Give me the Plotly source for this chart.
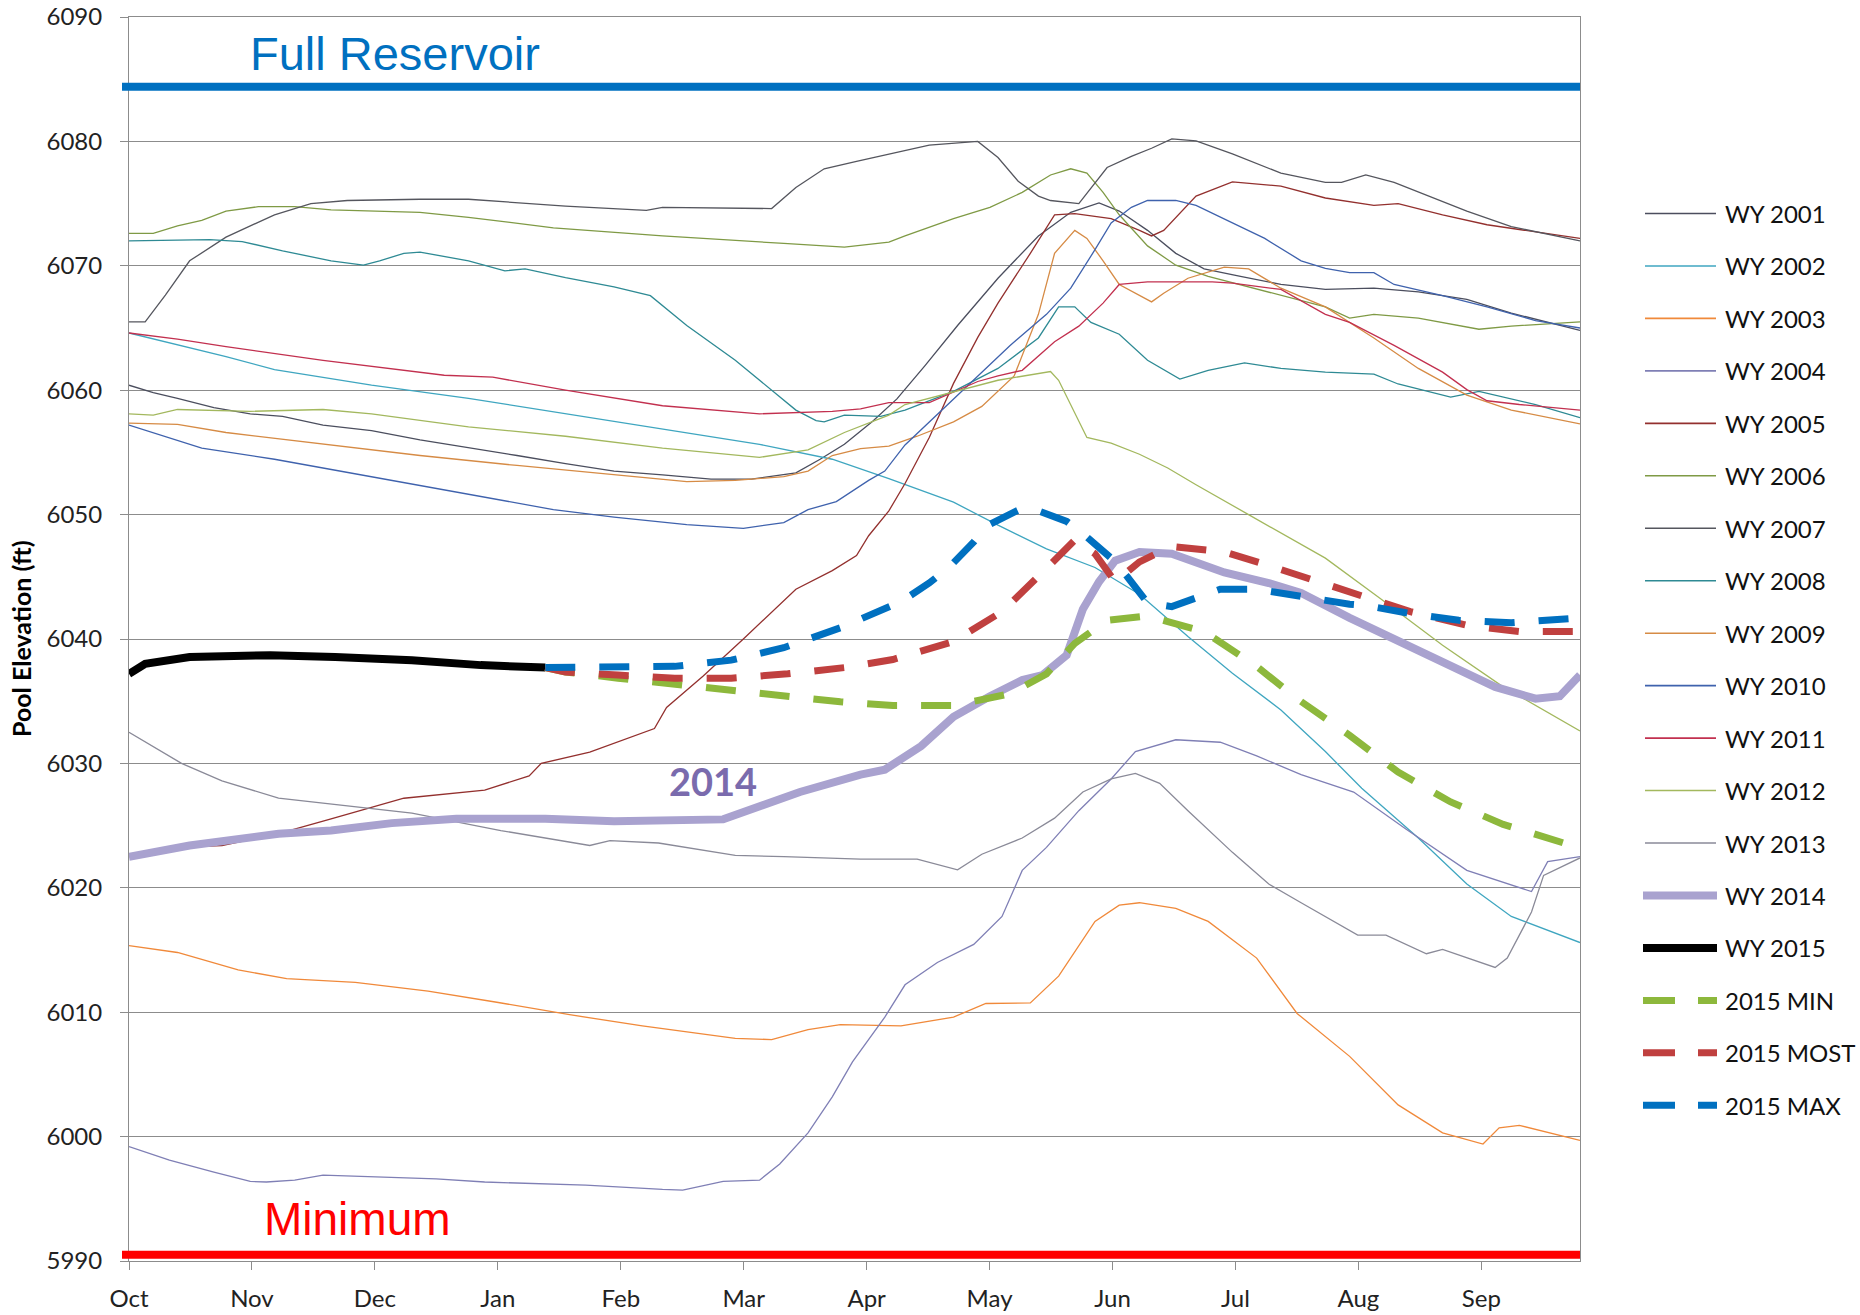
import plotly.graph_objects as go

# ---------------------------------------------------------------- data
# x values are days into the water year (0 = Oct 1); y values are pool elevations (ft)
MONTHS = ["Oct", "Nov", "Dec", "Jan", "Feb", "Mar", "Apr", "May", "Jun", "Jul", "Aug", "Sep"]
DAYS_PER_MONTH = 365 / 12
X_END = 359
Y_MIN, Y_MAX, Y_STEP = 5990, 6090, 10

FULL_POOL = 6084.4
MIN_POOL = 5990.5

wy2001_day = [0, 6, 12, 21, 30, 38, 48, 60, 72, 84, 96, 108, 120, 132, 144, 154, 165, 171, 177, 184, 190, 197, 205, 215, 225, 233, 240, 245, 252, 259, 266, 275, 285, 296, 308, 319, 331, 342, 359]
wy2001_elev = [6060.4, 6059.8, 6059.35, 6058.6, 6058.1, 6057.9, 6057.2, 6056.75, 6056.0, 6055.4, 6054.75, 6054.1, 6053.5, 6053.2, 6052.85, 6052.85, 6053.35, 6054.45, 6055.65, 6057.5, 6059.3, 6062.0, 6065.2, 6069.0, 6072.4, 6074.3, 6075.05, 6074.4, 6072.85, 6071.0, 6069.75, 6069.15, 6068.5, 6068.1, 6068.2, 6067.9, 6067.3, 6066.2, 6064.8]

wy2002_day = [0, 12, 24, 36, 60, 84, 108, 132, 156, 174, 188, 204, 215, 227, 239, 250, 262, 273, 285, 296, 305, 319, 331, 342, 359]
wy2002_elev = [6064.6, 6063.65, 6062.7, 6061.65, 6060.4, 6059.35, 6058.1, 6056.9, 6055.65, 6054.45, 6052.9, 6051.0, 6049.15, 6047.25, 6045.75, 6043.6, 6040.2, 6037.25, 6034.3, 6030.95, 6028.0, 6024.0, 6020.3, 6017.7, 6015.6]

wy2003_day = [0, 12, 27, 39, 56, 74, 91, 109, 127, 138, 150, 159, 168, 176, 191, 204, 212, 223, 230, 239, 245, 250, 259, 267, 279, 289, 302, 314, 325, 335, 339, 344, 359]
wy2003_elev = [6015.35, 6014.8, 6013.4, 6012.7, 6012.4, 6011.7, 6010.8, 6009.8, 6008.9, 6008.4, 6007.9, 6007.8, 6008.6, 6009.0, 6008.9, 6009.6, 6010.7, 6010.75, 6012.9, 6017.3, 6018.6, 6018.8, 6018.35, 6017.3, 6014.35, 6009.9, 6006.45, 6002.55, 6000.3, 5999.4, 6000.7, 6000.9, 5999.7]

wy2004_day = [0, 10, 21, 30, 34, 41, 48, 60, 76, 88, 113, 132, 137, 147, 156, 161, 168, 174, 179, 187, 192, 200, 209, 216, 221, 227, 235, 243, 249, 259, 270, 279, 290, 303, 316, 331, 347, 351, 359]
wy2004_elev = [5999.2, 5998.1, 5997.15, 5996.4, 5996.35, 5996.5, 5996.9, 5996.75, 5996.6, 5996.35, 5996.1, 5995.75, 5995.7, 5996.4, 5996.5, 5997.8, 6000.3, 6003.2, 6006.0, 6009.6, 6012.2, 6014.0, 6015.45, 6017.7, 6021.4, 6023.25, 6026.2, 6028.75, 6030.95, 6031.9, 6031.7, 6030.6, 6029.1, 6027.7, 6024.7, 6021.4, 6019.7, 6022.1, 6022.5]

wy2005_day = [0, 15, 23, 37, 50, 68, 88, 99, 102, 114, 130, 133, 142, 152, 165, 174, 180, 183, 188, 192, 198, 204, 210, 215, 223, 229, 234, 243, 250, 253, 256, 264, 273, 285, 296, 308, 314, 325, 336, 359]
wy2005_elev = [6022.5, 6023.3, 6023.4, 6024.35, 6025.55, 6027.2, 6027.85, 6029.0, 6030.0, 6030.9, 6032.8, 6034.5, 6037.0, 6040.0, 6044.0, 6045.5, 6046.7, 6048.3, 6050.3, 6052.5, 6056.2, 6060.55, 6064.25, 6067.0, 6071.0, 6074.1, 6074.2, 6073.8, 6072.85, 6072.4, 6072.85, 6075.6, 6076.75, 6076.4, 6075.45, 6074.85, 6075.0, 6074.1, 6073.3, 6072.2]

wy2006_day = [0, 6, 12, 18, 24, 32, 41, 50, 72, 84, 105, 132, 162, 177, 188, 192, 204, 213, 221, 228, 233, 237, 241, 245, 252, 259, 267, 285, 296, 302, 308, 319, 334, 342, 359]
wy2006_elev = [6072.6, 6072.6, 6073.2, 6073.65, 6074.4, 6074.75, 6074.75, 6074.5, 6074.3, 6073.9, 6073.05, 6072.4, 6071.8, 6071.5, 6071.9, 6072.4, 6073.8, 6074.7, 6075.9, 6077.3, 6077.8, 6077.45, 6075.9, 6074.1, 6071.6, 6070.05, 6069.15, 6067.6, 6066.7, 6065.8, 6066.1, 6065.8, 6064.9, 6065.15, 6065.5]

wy2007_day = [0, 4, 9, 15, 24, 36, 45, 54, 72, 84, 108, 128, 132, 150, 159, 165, 172, 180, 188, 192, 198, 210, 215, 220, 225, 228, 235, 242, 248, 253, 258, 264, 273, 285, 296, 300, 306, 313, 331, 342, 359]
wy2007_elev = [6065.5, 6065.5, 6067.65, 6070.4, 6072.3, 6074.1, 6075.0, 6075.25, 6075.35, 6075.35, 6074.8, 6074.45, 6074.7, 6074.6, 6074.6, 6076.3, 6077.8, 6078.4, 6079.0, 6079.3, 6079.7, 6080.0, 6078.7, 6076.8, 6075.6, 6075.25, 6075.0, 6077.9, 6078.8, 6079.45, 6080.2, 6080.05, 6079.0, 6077.45, 6076.7, 6076.7, 6077.3, 6076.7, 6074.4, 6073.15, 6072.0]

wy2008_day = [0, 12, 20, 28, 38, 50, 58, 62, 68, 72, 84, 93, 98, 108, 120, 129, 138, 150, 158, 165, 170, 172, 177, 186, 192, 204, 215, 225, 230, 234, 238, 245, 252, 260, 267, 276, 285, 296, 308, 314, 327, 334, 348, 359]
wy2008_elev = [6072.0, 6072.05, 6072.1, 6071.95, 6071.2, 6070.4, 6070.05, 6070.4, 6071.0, 6071.1, 6070.4, 6069.6, 6069.75, 6069.05, 6068.3, 6067.6, 6065.2, 6062.4, 6060.3, 6058.4, 6057.55, 6057.45, 6058.0, 6057.9, 6058.4, 6059.9, 6061.75, 6064.2, 6066.7, 6066.7, 6065.45, 6064.5, 6062.4, 6060.9, 6061.6, 6062.2, 6061.75, 6061.45, 6061.3, 6060.5, 6059.45, 6059.9, 6058.85, 6057.8]

wy2009_day = [0, 12, 24, 48, 72, 96, 120, 138, 150, 162, 168, 174, 181, 188, 195, 204, 211, 219, 225, 229, 234, 237, 241, 245, 253, 256, 262, 271, 277, 285, 296, 308, 319, 331, 342, 359]
wy2009_elev = [6057.35, 6057.25, 6056.6, 6055.65, 6054.75, 6053.95, 6053.2, 6052.65, 6052.75, 6053.05, 6053.5, 6054.75, 6055.3, 6055.5, 6056.3, 6057.45, 6058.7, 6061.15, 6066.1, 6071.0, 6072.85, 6072.2, 6070.4, 6068.5, 6067.1, 6067.8, 6069.0, 6069.9, 6069.75, 6068.2, 6066.7, 6064.2, 6061.75, 6059.6, 6058.4, 6057.3]

wy2010_day = [0, 6, 18, 36, 60, 84, 105, 120, 138, 152, 162, 168, 175, 183, 187, 192, 202, 210, 218, 227, 233, 239, 243, 248, 252, 259, 264, 273, 281, 290, 296, 302, 308, 313, 325, 336, 348, 359]
wy2010_elev = [6057.2, 6056.6, 6055.35, 6054.45, 6053.05, 6051.65, 6050.4, 6049.8, 6049.2, 6048.9, 6049.35, 6050.4, 6051.05, 6052.75, 6053.5, 6055.6, 6058.7, 6061.15, 6063.6, 6066.1, 6068.2, 6071.3, 6073.45, 6074.7, 6075.25, 6075.25, 6074.85, 6073.45, 6072.2, 6070.4, 6069.8, 6069.45, 6069.45, 6068.5, 6067.6, 6066.7, 6065.6, 6065.0]

wy2011_day = [0, 12, 24, 48, 78, 90, 108, 132, 156, 174, 181, 188, 198, 210, 215, 221, 229, 235, 241, 245, 252, 262, 268, 273, 285, 296, 302, 313, 325, 331, 336, 344, 359]
wy2011_elev = [6064.6, 6064.1, 6063.5, 6062.4, 6061.2, 6061.05, 6060.0, 6058.75, 6058.1, 6058.3, 6058.5, 6059.0, 6059.0, 6060.7, 6061.15, 6061.6, 6063.9, 6065.15, 6067.0, 6068.5, 6068.7, 6068.7, 6068.7, 6068.6, 6068.1, 6066.1, 6065.45, 6063.6, 6061.45, 6060.05, 6059.15, 6058.85, 6058.4]

wy2012_day = [0, 6, 12, 30, 48, 60, 84, 108, 132, 156, 168, 177, 188, 192, 215, 222, 228, 230, 235, 237, 243, 250, 257, 264, 277, 296, 310, 325, 340, 359]
wy2012_elev = [6058.1, 6058.0, 6058.45, 6058.3, 6058.45, 6058.1, 6057.05, 6056.3, 6055.35, 6054.6, 6055.2, 6056.6, 6058.0, 6058.85, 6060.8, 6061.15, 6061.5, 6060.8, 6057.45, 6056.2, 6055.75, 6054.85, 6053.75, 6052.4, 6050.0, 6046.5, 6043.15, 6039.5, 6036.15, 6032.6]

wy2013_day = [0, 13, 23, 37, 70, 92, 114, 119, 131, 150, 162, 181, 195, 205, 211, 221, 229, 236, 243, 249, 255, 262, 273, 282, 290, 304, 311, 321, 325, 338, 341, 347, 350, 359]
wy2013_elev = [6032.5, 6030.0, 6028.6, 6027.2, 6026.0, 6024.6, 6023.4, 6023.8, 6023.6, 6022.6, 6022.5, 6022.3, 6022.3, 6021.45, 6022.7, 6024.0, 6025.6, 6027.7, 6028.75, 6029.2, 6028.4, 6026.2, 6022.85, 6020.3, 6018.8, 6016.2, 6016.2, 6014.7, 6015.05, 6013.6, 6014.35, 6018.05, 6021.0, 6022.4]

wy2014_day = [0, 15, 37, 50, 65, 81, 103, 120, 147, 166, 181, 187, 196, 204, 213, 221, 226, 232, 236, 240, 244, 250, 258, 271, 282, 290, 302, 313, 325, 338, 348, 354, 359]
wy2014_elev = [6022.5, 6023.4, 6024.35, 6024.6, 6025.2, 6025.55, 6025.55, 6025.35, 6025.5, 6027.7, 6029.1, 6029.5, 6031.4, 6033.75, 6035.4, 6036.7, 6037.1, 6038.7, 6042.4, 6044.6, 6046.3, 6047.0, 6046.85, 6045.35, 6044.5, 6043.7, 6041.7, 6040.0, 6038.2, 6036.15, 6035.2, 6035.4, 6037.1]

wy2015_day = [0, 4, 15, 35, 51, 70, 87, 103]
wy2015_elev = [6037.2, 6038.0, 6038.55, 6038.7, 6038.55, 6038.3, 6037.9, 6037.7]

min2015_day = [103, 108, 121, 135, 148, 162, 176, 189, 204, 218, 227, 234, 242, 252, 266, 279, 289, 302, 314, 327, 340, 355, 359]
min2015_elev = [6037.7, 6037.35, 6036.85, 6036.35, 6035.9, 6035.4, 6034.95, 6034.65, 6034.65, 6035.6, 6037.2, 6039.65, 6041.5, 6041.85, 6040.6, 6037.8, 6035.2, 6032.25, 6029.3, 6026.9, 6025.1, 6023.6, 6023.3]

most2015_day = [103, 108, 121, 135, 149, 163, 177, 189, 204, 216, 226, 234, 239, 244, 250, 255, 259, 271, 282, 295, 305, 317, 331, 344, 359]
most2015_elev = [6037.7, 6037.35, 6037.1, 6036.85, 6036.85, 6037.2, 6037.7, 6038.35, 6039.8, 6042.2, 6045.35, 6047.95, 6046.85, 6044.6, 6046.2, 6047.0, 6047.4, 6047.0, 6045.9, 6044.5, 6043.5, 6042.2, 6041.1, 6040.6, 6040.6]

max2015_day = [103, 108, 121, 135, 149, 162, 176, 186, 191, 198, 203, 209, 212, 219, 221, 225, 232, 237, 243, 247, 252, 258, 265, 270, 279, 285, 293, 302, 306, 317, 329, 342, 359]
max2015_elev = [6037.7, 6037.7, 6037.7, 6037.8, 6038.3, 6039.3, 6040.9, 6042.3, 6043.0, 6044.5, 6045.8, 6047.8, 6049.05, 6050.2, 6050.5, 6050.3, 6049.45, 6048.2, 6046.5, 6045.0, 6042.9, 6042.6, 6043.5, 6044.0, 6044.0, 6043.7, 6043.2, 6042.8, 6042.7, 6042.05, 6041.5, 6041.3, 6041.7]

# (label, days, elevations, colour, width, dash)
SERIES = [
    ("WY 2001", wy2001_day, wy2001_elev, "#4b4e5e", 1.3, "solid"),
    ("WY 2002", wy2002_day, wy2002_elev, "#3fa6c0", 1.3, "solid"),
    ("WY 2003", wy2003_day, wy2003_elev, "#f0893a", 1.3, "solid"),
    ("WY 2004", wy2004_day, wy2004_elev, "#7f7fb5", 1.3, "solid"),
    ("WY 2005", wy2005_day, wy2005_elev, "#93302e", 1.3, "solid"),
    ("WY 2006", wy2006_day, wy2006_elev, "#7f9a45", 1.3, "solid"),
    ("WY 2007", wy2007_day, wy2007_elev, "#55565e", 1.3, "solid"),
    ("WY 2008", wy2008_day, wy2008_elev, "#2e8a94", 1.3, "solid"),
    ("WY 2009", wy2009_day, wy2009_elev, "#d68b45", 1.3, "solid"),
    ("WY 2010", wy2010_day, wy2010_elev, "#3f62ad", 1.3, "solid"),
    ("WY 2011", wy2011_day, wy2011_elev, "#c2304f", 1.3, "solid"),
    ("WY 2012", wy2012_day, wy2012_elev, "#a3b85e", 1.3, "solid"),
    ("WY 2013", wy2013_day, wy2013_elev, "#8a8a98", 1.3, "solid"),
    ("WY 2014", wy2014_day, wy2014_elev, "#a9a2cf", 8, "solid"),
    ("WY 2015", wy2015_day, wy2015_elev, "#000000", 8, "solid"),
    ("2015 MIN", min2015_day, min2015_elev, "#8db83c", 7, "30px,24px"),
    ("2015 MOST", most2015_day, most2015_elev, "#c0403f", 7, "30px,24px"),
    ("2015 MAX", max2015_day, max2015_elev, "#0070c0", 7, "30px,24px"),
]

# ---------------------------------------------------------------- layout geometry
W, H = 1860, 1315
M_L, M_R, M_T, M_B = 129, 280, 17, 54
PLOT_W = W - M_L - M_R
PLOT_H = H - M_T - M_B
FONT = "Lato, 'Open Sans', sans-serif"
ARIAL = "'Liberation Sans', Arial, sans-serif"


def paper_x(px):
    return (px - M_L) / PLOT_W


def paper_y(py):
    return (H - M_B - py) / PLOT_H


fig = go.Figure()

for name, days, elev, color, width, dash in SERIES:
    fig.add_trace(go.Scatter(
        x=days, y=elev, mode="lines", name=name, showlegend=False,
        line=dict(color=color, width=width, dash=dash),
        hoverinfo="name+y",
    ))

shapes = []
annotations = []

# reference pool levels
shapes.append(dict(type="line", xref="paper", yref="y", x0=paper_x(122), x1=1,
                   y0=FULL_POOL, y1=FULL_POOL, line=dict(color="#0070c0", width=8)))
shapes.append(dict(type="line", xref="paper", yref="y", x0=paper_x(122), x1=1,
                   y0=MIN_POOL, y1=MIN_POOL, line=dict(color="#ff0000", width=8)))
annotations.append(dict(text="Full Reservoir", xref="paper", yref="paper",
                        x=paper_x(395), y=paper_y(54), xanchor="center", yanchor="middle",
                        showarrow=False, font=dict(family=ARIAL, size=47, color="#0070c0")))
annotations.append(dict(text="Minimum", xref="paper", yref="paper",
                        x=paper_x(357), y=paper_y(1219), xanchor="center", yanchor="middle",
                        showarrow=False, font=dict(family=ARIAL, size=46, color="#ff0000")))

# label for the 2014 trace
annotations.append(dict(text="<b>2014</b>", xref="x", yref="y", x=144.5, y=6028.6,
                        xanchor="center", yanchor="middle",
                        showarrow=False, font=dict(family=FONT, size=38, color="#7a6bad")))

# y-axis title
annotations.append(dict(text="<b>Pool Elevation (ft)</b>", xref="paper", yref="paper",
                        x=paper_x(21), y=0.5, xanchor="center", yanchor="middle",
                        textangle=-90, showarrow=False,
                        font=dict(family=FONT, size=25, color="#000000")))

# legend, drawn beside the plot
LEG_Y0, LEG_DY = 213.5, 52.46
for i, (name, days, elev, color, width, dash) in enumerate(SERIES):
    yy = paper_y(LEG_Y0 + i * LEG_DY)
    thick = width > 2
    x0 = 1643 if thick else 1645
    x1 = 1717 if thick else 1716
    shapes.append(dict(type="line", xref="paper", yref="paper",
                       x0=paper_x(x0), x1=paper_x(x1), y0=yy, y1=yy,
                       line=dict(color=color, width=width if thick else 1.6,
                                 dash="32px,23px" if dash != "solid" else "solid")))
    annotations.append(dict(text=name, xref="paper", yref="paper", x=paper_x(1723), y=yy,
                            xanchor="left", yanchor="middle", showarrow=False,
                            font=dict(family=FONT, size=24, color="#111111")))

fig.update_layout(
    width=W, height=H,
    margin=dict(l=M_L, r=M_R, t=M_T, b=M_B, autoexpand=False),
    paper_bgcolor="white", plot_bgcolor="white",
    showlegend=False,
    shapes=shapes, annotations=annotations,
    font=dict(family=FONT, size=24, color="#222222"),
    xaxis=dict(
        range=[0, X_END],
        tickvals=[i * DAYS_PER_MONTH for i in range(len(MONTHS))],
        ticktext=MONTHS,
        showgrid=False, zeroline=False,
        showline=True, linecolor="#8c8c8c", linewidth=1, mirror=True,
        ticks="outside", ticklen=8, tickcolor="#8c8c8c",
        ticklabelstandoff=8,
        tickfont=dict(family=FONT, size=24, color="#222222"),
        fixedrange=True,
    ),
    yaxis=dict(
        range=[Y_MIN, Y_MAX],
        tickmode="linear", tick0=Y_MIN, dtick=Y_STEP,
        showgrid=True, gridcolor="#8c8c8c", gridwidth=1, zeroline=False,
        showline=True, linecolor="#8c8c8c", linewidth=1, mirror=True,
        ticks="outside", ticklen=8, tickcolor="#8c8c8c",
        ticklabelstandoff=13,
        tickfont=dict(family=FONT, size=24, color="#222222"),
        fixedrange=True,
    ),
)

fig.write_html("out.html")
